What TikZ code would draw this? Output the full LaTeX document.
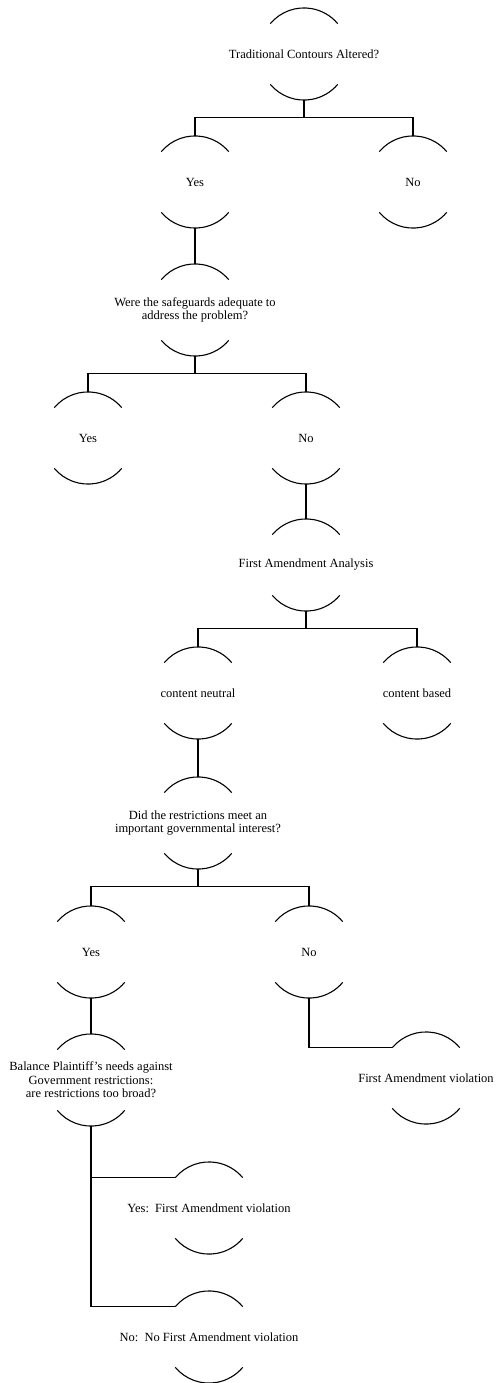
\documentclass[tikz,border=0pt]{standalone}
\usepackage{fontspec}
\setmainfont{Liberation Serif}
\begin{document}
\begin{tikzpicture}[x=1pt,y=1pt,
  line width=1.1pt,
  label/.style={inner sep=0pt, minimum height=91pt, minimum width=68pt,
    align=center, font=\fontsize{12.5}{13.6}\selectfont},
  link/.style={line width=1.1pt}]
\useasboundingbox (0,0) rectangle (496,-1383);

% decision points (centre positions)
\node[label] (root)    at (304,-54)   {Traditional Contours Altered?};
\node[label] (yesA)    at (195,-182)  {Yes};
\node[label] (noA)     at (413,-182)  {No};
\node[label] (safe)    at (195,-310)  {Were the safeguards adequate to\\address the problem?};
\node[label] (yesB)    at (88,-438)   {Yes};
\node[label] (noB)     at (306,-438)  {No};
\node[label] (faa)     at (306,-565)  {First Amendment Analysis};
\node[label] (neutral) at (198,-693)  {content neutral};
\node[label] (based)   at (417,-693)  {content based};
\node[label] (interest) at (198,-823) {Did the restrictions meet an\\important governmental interest?};
\node[label] (yesC)    at (91,-952)   {Yes};
\node[label] (noC)     at (309,-952)  {No};
\node[label] (balance) at (91,-1080)  {Balance Plaintiff's needs against\\Government restrictions:\\are restrictions too broad?};
\node[label] (viol)    at (426,-1078) {First Amendment violation};
\node[label] (yesV)    at (209,-1208) {Yes:\ \ First Amendment violation};
\node[label] (noV)     at (209,-1337) {No:\ \ No First Amendment violation};

% upper and lower arcs around every label
\foreach \n in {root,yesA,noA,safe,yesB,noB,faa,neutral,based,interest,yesC,noC,balance,viol,yesV,noV}{
  \draw ([shift={(-33.7,-15.7)}]\n.north) arc[start angle=140,end angle=40,radius=44];
  \draw ([shift={(-33.7,15.7)}]\n.south) arc[start angle=220,end angle=320,radius=44];
}

% connectors
\draw[link] (root.south) -- ++(0,-17.5) -| (yesA.north);
\draw[link] (root.south) -- ++(0,-17.5) -| (noA.north);
\draw[link] (yesA.south) -- (safe.north);
\draw[link] (safe.south) -- ++(0,-17.5) -| (yesB.north);
\draw[link] (safe.south) -- ++(0,-17.5) -| (noB.north);
\draw[link] (noB.south) -- (faa.north);
\draw[link] (faa.south) -- ++(0,-17.5) -| (neutral.north);
\draw[link] (faa.south) -- ++(0,-17.5) -| (based.north);
\draw[link] (neutral.south) -- (interest.north);
\draw[link] (interest.south) -- ++(0,-17.5) -| (yesC.north);
\draw[link] (interest.south) -- ++(0,-17.5) -| (noC.north);
\draw[link] (yesC.south) -- (balance.north);
\draw[link] (noC.south) |- ([shift={(-33.7,-15.7)}]viol.north);
\draw[link] (balance.south) |- ([shift={(-33.7,-15.7)}]yesV.north);
\draw[link] (balance.south) |- ([shift={(-33.7,-15.7)}]noV.north);
\end{tikzpicture}
\end{document}
